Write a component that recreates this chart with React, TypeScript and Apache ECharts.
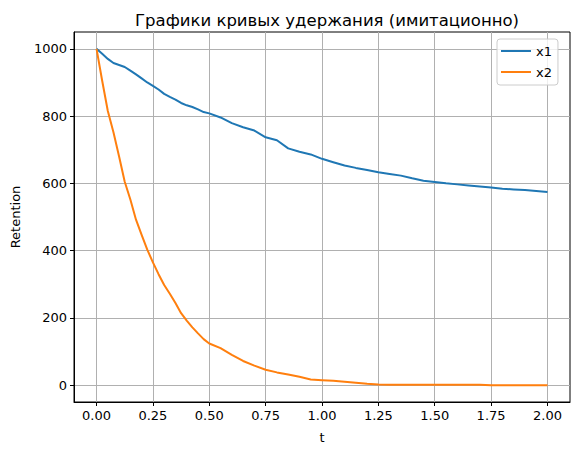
import React, { useEffect, useRef } from "react";
import * as echarts from "echarts";

const tValues = [
  0, 0.025, 0.05, 0.075, 0.1, 0.125, 0.15, 0.175, 0.2, 0.225, 0.25, 0.275, 0.3, 0.325, 0.35, 0.375, 0.4,
  0.425, 0.45, 0.475, 0.5, 0.55, 0.6, 0.65, 0.7, 0.75, 0.8, 0.85, 0.9, 0.95, 1.0, 1.05, 1.1, 1.15, 1.2,
  1.25, 1.3, 1.35, 1.4, 1.45, 1.5, 1.55, 1.6, 1.65, 1.7, 1.75, 1.8, 1.85, 1.9, 1.95, 2.0,
];

const x1Values = [
  1000, 985, 970, 958, 952, 946, 935, 924, 912, 900, 890, 879, 866, 857, 849, 839, 832, 827, 820, 812,
  808, 796, 779, 767, 757, 737, 728, 704, 694, 686, 673, 663, 653, 646, 640, 633, 628, 623, 615, 608,
  604, 600, 597, 594, 591, 588, 584, 582, 580, 577, 574,
];

const x2Values = [
  1000, 905, 815, 752, 680, 605, 552, 492, 447, 403, 365, 330, 298, 272, 244, 214, 192, 172, 154, 137,
  124, 110, 90, 72, 58, 46, 38, 32, 25, 17, 15, 13, 10, 7, 4, 2, 1, 1, 1, 1,
  1, 1, 1, 1, 1, 0, 0, 0, 0, 0, 0,
];

const xTicks = [0, 0.25, 0.5, 0.75, 1.0, 1.25, 1.5, 1.75, 2.0];
const yTicks = [0, 200, 400, 600, 800, 1000];

const seriesNames = ["x1", "x2"];
const colors = ["#1f77b4", "#ff7f0e"];

const FONT = "DejaVu Sans";
const FS = 13;

export default function App() {
  const ref = useRef<HTMLDivElement>(null);
  useEffect(() => {
    if (!ref.current) return;
    const chart = echarts.init(ref.current, undefined, { renderer: "svg" });
    const seriesData = [x1Values, x2Values];
    chart.setOption({
      animation: false,
      backgroundColor: "#ffffff",
      textStyle: { fontFamily: FONT },
      title: {
        text: "Графики кривых удержания (имитационно)",
        left: 322,
        top: 7,
        textAlign: "center",
        textStyle: { fontFamily: FONT, fontSize: 16.5, fontWeight: "normal", color: "#000" },
      },
      legend: {
        orient: "vertical",
        left: 497,
        top: 39,
        padding: [5, 6, 6, 4],
        itemWidth: 30,
        itemHeight: 2,
        itemGap: 7,
        icon: "rect",
        backgroundColor: "rgba(255,255,255,0.8)",
        borderColor: "#cccccc",
        borderWidth: 1,
        borderRadius: 3,
        textStyle: { fontFamily: FONT, fontSize: FS, color: "#000", lineHeight: 14 },
        data: seriesNames,
      },
      grid: {
        left: 74,
        right: 10,
        top: 32,
        bottom: 53,
        show: true,
        borderColor: "#000",
        borderWidth: 1,
        backgroundColor: "transparent",
      },
      xAxis: {
        type: "value",
        min: -0.1,
        max: 2.1,
        name: "t",
        nameLocation: "middle",
        nameGap: 29,
        nameTextStyle: { fontFamily: FONT, fontSize: FS, color: "#000" },
        axisLine: { show: true, onZero: false, lineStyle: { color: "#000", width: 1 } },
        axisTick: { show: true, length: 4, lineStyle: { color: "#000" }, customValues: xTicks },
        axisLabel: {
          customValues: xTicks,
          formatter: (v: number) => v.toFixed(2),
          fontFamily: FONT,
          fontSize: FS,
          color: "#000",
          margin: 7,
        },
        splitLine: { show: true, lineStyle: { color: "#b0b0b0", width: 1 } },
      },
      yAxis: {
        type: "value",
        min: -50,
        max: 1050,
        name: "Retention",
        nameLocation: "middle",
        nameGap: 52,
        nameRotate: 90,
        nameTextStyle: { fontFamily: FONT, fontSize: FS, color: "#000" },
        axisLine: { show: true, onZero: false, lineStyle: { color: "#000", width: 1 } },
        axisTick: { show: true, length: 4, lineStyle: { color: "#000" }, customValues: yTicks },
        axisLabel: {
          customValues: yTicks,
          formatter: (v: number) => String(v),
          fontFamily: FONT,
          fontSize: FS,
          color: "#000",
          margin: 7,
        },
        splitLine: { show: true, lineStyle: { color: "#b0b0b0", width: 1 } },
      },
      series: seriesNames.map((name, i) => ({
        name,
        type: "line",
        data: tValues.map((t, j) => [t, seriesData[i][j]]),
        showSymbol: false,
        symbol: "none",
        lineStyle: { color: colors[i], width: 2 },
        itemStyle: { color: colors[i] },
        emphasis: { disabled: true },
      })),
    });
    return () => chart.dispose();
  }, []);
  return <div ref={ref} style={{ width: 580, height: 455, position: "absolute", left: 0, top: 0 }} />;
}
